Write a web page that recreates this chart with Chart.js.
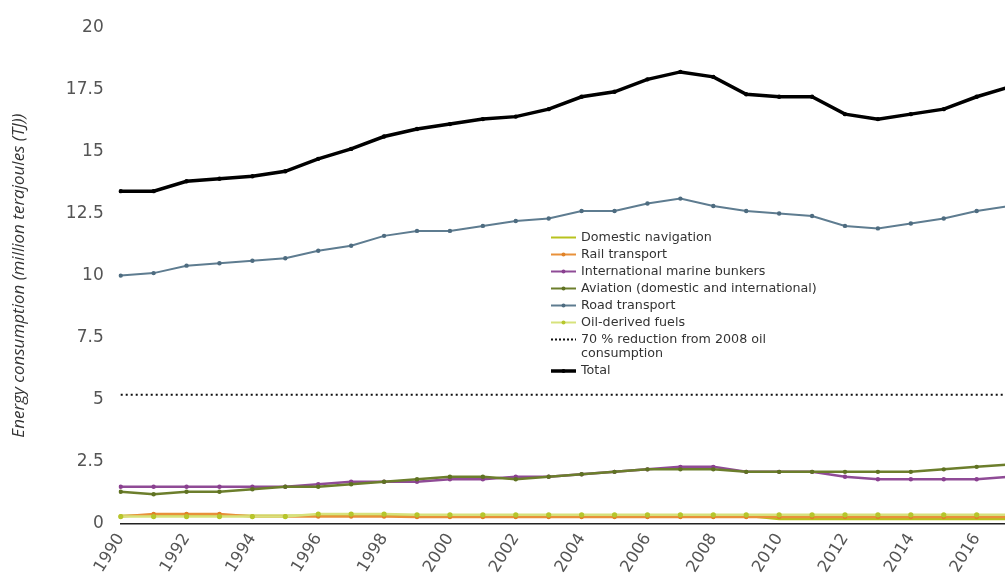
<!DOCTYPE html>
<html>
<head>
<meta charset="utf-8">
<script src="https://cdn.jsdelivr.net/npm/chart.js@4.4.1/dist/chart.umd.min.js"></script>
<style>
html,body{margin:0;padding:0;background:#fff;overflow:hidden;}
#wrap{position:absolute;left:0;top:0;width:1040px;height:574px;}
</style>
</head>
<body>
<div id="wrap"><canvas id="c"></canvas></div>
<script>
const years = ["1990","1991","1992","1993","1994","1995","1996","1997","1998","1999","2000","2001","2002","2003","2004","2005","2006","2007","2008","2009","2010","2011","2012","2013","2014","2015","2016","2017"];
const domesticNavigation = [0.33,0.33,0.33,0.33,0.33,0.33,0.33,0.33,0.33,0.33,0.33,0.33,0.33,0.33,0.33,0.33,0.33,0.33,0.33,0.33,0.2,0.2,0.2,0.2,0.2,0.2,0.2,0.2];
const railTransport = [0.3,0.4,0.4,0.4,0.3,0.3,0.3,0.3,0.3,0.28,0.28,0.28,0.28,0.28,0.28,0.28,0.28,0.28,0.28,0.28,0.28,0.28,0.28,0.28,0.28,0.28,0.28,0.28];
const marineBunkers = [1.5,1.5,1.5,1.5,1.5,1.5,1.6,1.7,1.7,1.7,1.8,1.8,1.9,1.9,2.0,2.1,2.2,2.3,2.3,2.1,2.1,2.1,1.9,1.8,1.8,1.8,1.8,1.9];
const aviation = [1.3,1.2,1.3,1.3,1.4,1.5,1.5,1.6,1.7,1.8,1.9,1.9,1.8,1.9,2.0,2.1,2.2,2.2,2.2,2.1,2.1,2.1,2.1,2.1,2.1,2.2,2.3,2.4];
const roadTransport = [10.0,10.1,10.4,10.5,10.6,10.7,11.0,11.2,11.6,11.8,11.8,12.0,12.2,12.3,12.6,12.6,12.9,13.1,12.8,12.6,12.5,12.4,12.0,11.9,12.1,12.3,12.6,12.8];
const oilDerivedFuels = [0.3,0.3,0.3,0.3,0.3,0.3,0.4,0.4,0.4,0.37,0.37,0.37,0.37,0.37,0.37,0.37,0.37,0.37,0.37,0.37,0.37,0.37,0.37,0.37,0.37,0.37,0.37,0.37];
const reductionTarget = [5.2,5.2,5.2,5.2,5.2,5.2,5.2,5.2,5.2,5.2,5.2,5.2,5.2,5.2,5.2,5.2,5.2,5.2,5.2,5.2,5.2,5.2,5.2,5.2,5.2,5.2,5.2,5.2];
const total = [13.4,13.4,13.8,13.9,14.0,14.2,14.7,15.1,15.6,15.9,16.1,16.3,16.4,16.7,17.2,17.4,17.9,18.2,18.0,17.3,17.2,17.2,16.5,16.3,16.5,16.7,17.2,17.6];
const yTicks = [0,2.5,5,7.5,10,12.5,15,17.5,20];
const yTitle = "Energy consumption (million terajoules (TJ))";

const legendItems = [
  {label:["Domestic navigation"], color:"#b8c21e", width:2, dot:null, dash:[]},
  {label:["Rail transport"], color:"#e8913a", width:2, dot:"#e08228", dash:[]},
  {label:["International marine bunkers"], color:"#8f4b96", width:2, dot:"#8a4090", dash:[]},
  {label:["Aviation (domestic and international)"], color:"#6c7e2c", width:2, dot:"#5f7222", dash:[]},
  {label:["Road transport"], color:"#5e7c90", width:2, dot:"#4e6c80", dash:[]},
  {label:["Oil-derived fuels"], color:"#d7e27c", width:2, dot:"#b6c62c", dash:[]},
  {label:["70 % reduction from 2008 oil","consumption"], color:"#111", width:2, dot:null, dash:[2,2]},
  {label:["Total"], color:"#000", width:3.5, dot:"#000", dash:[]}
];

function ds(label, data, color, width, dot, dash, pr) {
  return {label, data, borderColor: color, backgroundColor: dot || color,
    pointBackgroundColor: dot || color, pointBorderColor: dot || color, pointBorderWidth: 0,
    borderWidth: width, pointRadius: pr, pointHoverRadius: pr, borderDash: dash,
    tension: 0, fill: false};
}

const L = legendItems;
const datasets = [
  ds(L[7].label.join(" "), total, L[7].color, L[7].width, L[7].dot, [], 2.2),
  ds(L[6].label.join(" "), reductionTarget, L[6].color, L[6].width, null, [2,3], 0),
  ds(L[5].label.join(" "), oilDerivedFuels, L[5].color, 2.5, L[5].dot, [], 2.6),
  ds(L[4].label.join(" "), roadTransport, L[4].color, L[4].width, L[4].dot, [], 2.2),
  ds(L[3].label.join(" "), aviation, L[3].color, 2.5, L[3].dot, [], 2.2),
  ds(L[2].label.join(" "), marineBunkers, L[2].color, 2.5, L[2].dot, [], 2.2),
  ds(L[1].label.join(" "), railTransport, L[1].color, 2.5, L[1].dot, [], 2.2),
  ds(L[0].label.join(" "), domesticNavigation, L[0].color, 2.5, null, [], 0)
];

const customLegend = {
  id: 'customLegend',
  afterDraw(chart) {
    const ctx = chart.ctx;
    const x0 = 551, x1 = 576, tx = 581;
    let y = 237.5;
    ctx.save();
    ctx.font = "12.7px 'DejaVu Sans'";
    ctx.textBaseline = 'middle';
    ctx.textAlign = 'left';
    legendItems.forEach(it => {
      ctx.beginPath();
      ctx.setLineDash(it.dash);
      ctx.strokeStyle = it.color;
      ctx.lineWidth = it.width;
      ctx.moveTo(x0, y); ctx.lineTo(x1, y);
      ctx.stroke();
      ctx.setLineDash([]);
      if (it.dot) {
        ctx.beginPath();
        ctx.fillStyle = it.dot;
        ctx.arc((x0 + x1) / 2, y, 2, 0, Math.PI * 2);
        ctx.fill();
      }
      ctx.fillStyle = '#333';
      it.label.forEach((t, i) => ctx.fillText(t, tx, y + i * 14.5));
      y += 17 + (it.label.length - 1) * 14.5;
    });
    ctx.restore();
  }
};

new Chart(document.getElementById('c'), {
  type: 'line',
  data: {labels: years, datasets},
  plugins: [customLegend],
  options: {
    responsive: true, maintainAspectRatio: false, animation: false,
    layout: {padding: {top: 19, right: 30.4, bottom: 0, left: 0}},
    plugins: {legend: {display: false}, tooltip: {enabled: false}},
    scales: {
      x: {
        grid: {display: false, drawTicks: false},
        border: {display: true, color: '#222', width: 1.5},
        ticks: {
          autoSkip: false, maxRotation: 58, minRotation: 58, padding: 6,
          color: '#555', font: {family: "'DejaVu Sans'", size: 16.5},
          callback: function(v, i) { return i % 2 === 0 ? years[i] : null; }
        },
        afterFit(s) { s.height = 50; }
      },
      y: {
        min: 0, max: 20,
        afterBuildTicks(s) { s.ticks = yTicks.map(v => ({value: v})); },
        grid: {display: false, drawTicks: false},
        border: {display: false},
        ticks: {color: '#555', padding: 17, font: {family: "'DejaVu Sans'", size: 17}},
        title: {display: true, text: yTitle, color: '#333', padding: {top: 9, bottom: 0},
          font: {family: "'Open Sans'", size: 17, style: 'italic'}},
        afterFit(s) { s.width = 120.7; }
      }
    }
  }
});
</script>
</body>
</html>
